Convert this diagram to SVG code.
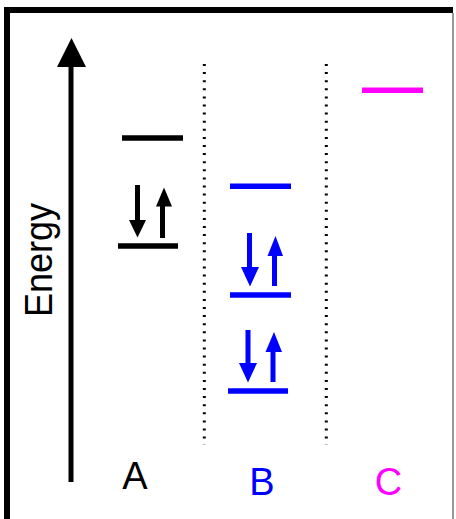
<svg xmlns="http://www.w3.org/2000/svg" width="456" height="519" viewBox="0 0 456 519">
<style>
.lbl{font-family:"Liberation Sans",Arial,sans-serif;font-size:38px}
.lv{stroke-width:5.5;fill:none}
.sh{stroke-width:5;fill:none}
.dot{stroke:#000;stroke-width:3;stroke-dasharray:2 6.1;fill:none}
.k{stroke:#000}
.kf{fill:#000}
.b{stroke:#0000ff}
.bf{fill:#0000ff}
.m{stroke:#ff00ff}
</style>
<rect width="456" height="519" fill="#fff"/>
<g id="frame">
<rect x="4" y="7" width="449" height="6" fill="#000"/>
<rect x="4" y="7" width="6" height="512" fill="#000"/>
<rect x="452" y="13" width="2" height="506" fill="#999"/>
</g>
<g id="axis">
<line x1="71" y1="64" x2="71" y2="482" class="k sh"/>
<polygon points="71.5,38 57,67 86,67" class="kf"/>
<text class="lbl" transform="translate(52,317) rotate(-90)" textLength="114" lengthAdjust="spacingAndGlyphs">Energy</text>
</g>
<g id="connectors">
<line x1="204.3" y1="64" x2="204.3" y2="445" class="dot"/>
<line x1="326.3" y1="64" x2="326.3" y2="445" class="dot"/>
</g>
<g id="A">
<line x1="122" y1="138" x2="183" y2="138" class="lv k"/>
<line x1="118" y1="246" x2="178" y2="246" class="lv k"/>
<line x1="137.5" y1="185" x2="137.5" y2="222" class="sh k"/>
<polygon points="129,220 146,220 137.5,237.5" class="kf"/>
<line x1="162.5" y1="238" x2="162.5" y2="204" class="sh k"/>
<polygon points="156,206.5 172,206.5 164,187.5" class="kf"/>
<text class="lbl" x="135" y="489" text-anchor="middle" fill="#000">A</text>
</g>
<g id="B">
<line x1="230" y1="186.3" x2="291" y2="186.3" class="lv b"/>
<line x1="230" y1="295" x2="291" y2="295" class="lv b"/>
<line x1="228" y1="391" x2="288" y2="391" class="lv b"/>
<line x1="249.5" y1="233" x2="249.5" y2="269" class="sh b"/>
<polygon points="241,267 259,267 250,286.5" class="bf"/>
<line x1="274.5" y1="286" x2="274.5" y2="254" class="sh b"/>
<polygon points="267.5,256 283,256 275.5,236" class="bf"/>
<line x1="248" y1="330" x2="248" y2="365" class="sh b"/>
<polygon points="239,363 257,363 248,382.5" class="bf"/>
<line x1="273" y1="382" x2="273" y2="350" class="sh b"/>
<polygon points="265.5,352 282,352 274,332" class="bf"/>
<text class="lbl" x="262" y="495" text-anchor="middle" fill="#0000ff">B</text>
</g>
<g id="C">
<line x1="362" y1="90.3" x2="423" y2="90.3" class="lv m"/>
<text class="lbl" x="388.5" y="495" text-anchor="middle" fill="#ff00ff">C</text>
</g>
</svg>
